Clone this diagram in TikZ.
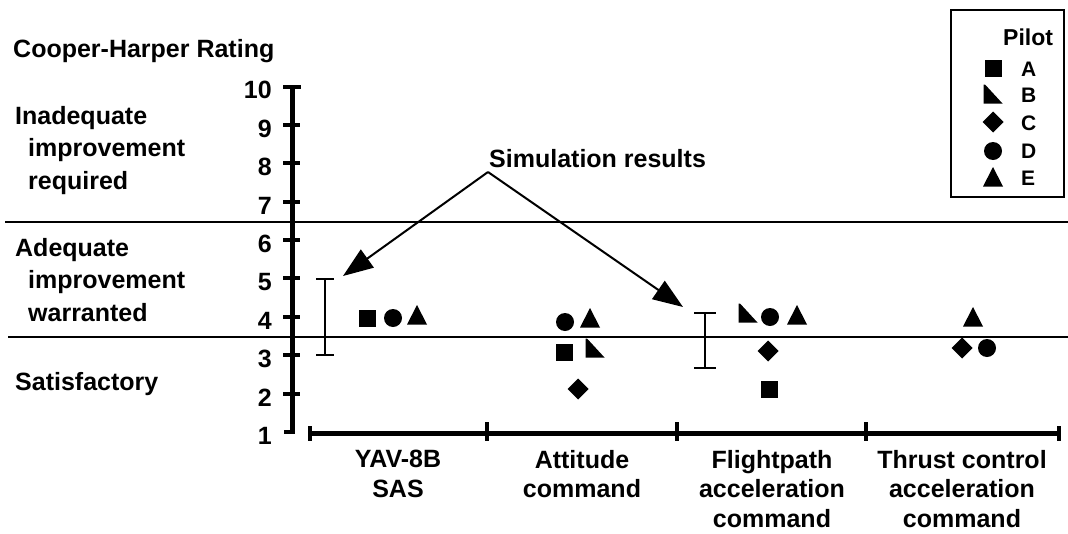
\documentclass[tikz,border=0pt]{standalone}
\usepackage{fontspec}
\setmainfont{Liberation Sans}
\usetikzlibrary{arrows.meta}
\tikzset{
  lbl/.style={font=\fontsize{25}{32.5}\selectfont\bfseries, inner sep=0pt},
  catlbl/.style={font=\fontsize{25}{29.5}\selectfont\bfseries, inner sep=0pt},
  legtxt/.style={font=\fontsize{21}{25}\selectfont\bfseries, inner sep=0pt},
  axisline/.style={line width=5pt},
  tickline/.style={line width=4pt},
  bandline/.style={line width=2.4pt},
  errbar/.style={line width=2.5pt},
  callout/.style={line width=2pt, -{Triangle[length=30pt,width=22pt]}},
  mkA/.pic={\fill (-8.5,-8.5) rectangle (8.5,8.5);},
  mkB/.pic={\fill (-9.5,-9.5) -- (-8,-9.5) -- (9.5,9.5) -- (-9.5,9.5) -- cycle;},
  mkC/.pic={\fill (0,-10.5) -- (10.5,0) -- (0,10.5) -- (-10.5,0) -- cycle;},
  mkD/.pic={\fill (0,0) circle (9pt);},
  mkE/.pic={\fill (-10,9.5) -- (10,9.5) -- (0,-10) -- cycle;}
}
\begin{document}
\begin{tikzpicture}[x=1pt,y=-1pt]
\useasboundingbox (0,0) rectangle (1068,533);

% title of the rating scale
\node[lbl, anchor=base west] (title) at (13,57) {Cooper-Harper Rating};

% rating bands
\draw[bandline] (5,222) -- (1068,222);
\draw[bandline] (8,337) -- (1068,337);
\node[lbl, anchor=north west, align=left] (band1) at (15,106)
  {Inadequate\\\hspace*{13pt}improvement\\\hspace*{13pt}required};
\node[lbl, anchor=north west, align=left] (band2) at (15,238)
  {Adequate\\\hspace*{13pt}improvement\\\hspace*{13pt}warranted};
\node[lbl, anchor=base west] (band3) at (15,390) {Satisfactory};

% vertical rating axis
\draw[axisline] (292,86) -- (292,434);
\draw[tickline] (283,87) -- (301,87);
\foreach \r in {2,...,9}{
  \draw[tickline] (283,{432-(\r-1)*38.4}) -- (300,{432-(\r-1)*38.4});
}
\draw[tickline] (284,432) -- (294,432);
\foreach \r in {1,...,10}{
  \node[lbl, anchor=base east] (num\r) at (272,{432-(\r-1)*38.4+12.5}) {\r};
}

% horizontal category axis
\draw[axisline] (310,433) -- (1059,433);
\draw[tickline] (310,426) -- (310,441);
\draw[tickline] (1059,426) -- (1059,441);
\foreach \x in {487,677,866}{
  \draw[tickline] (\x,422) -- (\x,441);
}
\node[catlbl, anchor=north, align=center] (cat1) at (398,450) {YAV-8B\\SAS};
\node[catlbl, anchor=north, align=center] (cat2) at (582,450) {Attitude\\command};
\node[catlbl, anchor=north, align=center] (cat3) at (772,450) {Flightpath\\acceleration\\command};
\node[catlbl, anchor=north, align=center] (cat4) at (962,450) {Thrust control\\acceleration\\command};

% simulation ranges
\draw[errbar] (325,279) -- (325,355);
\draw[errbar] (316,279) -- (334,279);
\draw[errbar] (316,355) -- (334,355);
\draw[errbar] (705,313) -- (705,368);
\draw[errbar] (694,313) -- (716,313);
\draw[errbar] (694,368) -- (716,368);

% callout
\node[lbl, anchor=base west] (sim) at (489,167) {Simulation results};
\coordinate (apex) at (488,172);
\coordinate (tip1) at (343,276);
\coordinate (tip2) at (683,307);
\draw[callout] (apex) -- (tip1);
\draw[callout] (apex) -- (tip2);

% pilot ratings: YAV-8B SAS
\pic at (367,318) {mkA};
\pic at (393,318) {mkD};
\pic at (417,315) {mkE};
% attitude command
\pic at (565,322) {mkD};
\pic at (590,318) {mkE};
\pic at (564,352) {mkA};
\pic at (595,348) {mkB};
\pic at (578,389) {mkC};
% flightpath acceleration command
\pic at (748,313) {mkB};
\pic at (770,317) {mkD};
\pic at (797,315) {mkE};
\pic at (768,351) {mkC};
\pic at (769,389) {mkA};
% thrust control acceleration command
\pic at (973,317) {mkE};
\pic at (962,348) {mkC};
\pic at (987,348) {mkD};

% legend
\draw[bandline] (951,10) rectangle (1064,197);
\node[legtxt, anchor=base west, font=\fontsize{23}{25}\selectfont\bfseries] (legtitle) at (1003,45) {Pilot};
\pic at (993,68) {mkA};
\pic at (993,94) {mkB};
\pic at (993,122) {mkC};
\pic at (993,151) {mkD};
\pic at (993,177) {mkE};
\node[legtxt, anchor=base west] (legA) at (1021,76) {A};
\node[legtxt, anchor=base west] (legB) at (1021,102) {B};
\node[legtxt, anchor=base west] (legC) at (1021,130) {C};
\node[legtxt, anchor=base west] (legD) at (1021,158) {D};
\node[legtxt, anchor=base west] (legE) at (1021,185) {E};
\end{tikzpicture}
\end{document}
